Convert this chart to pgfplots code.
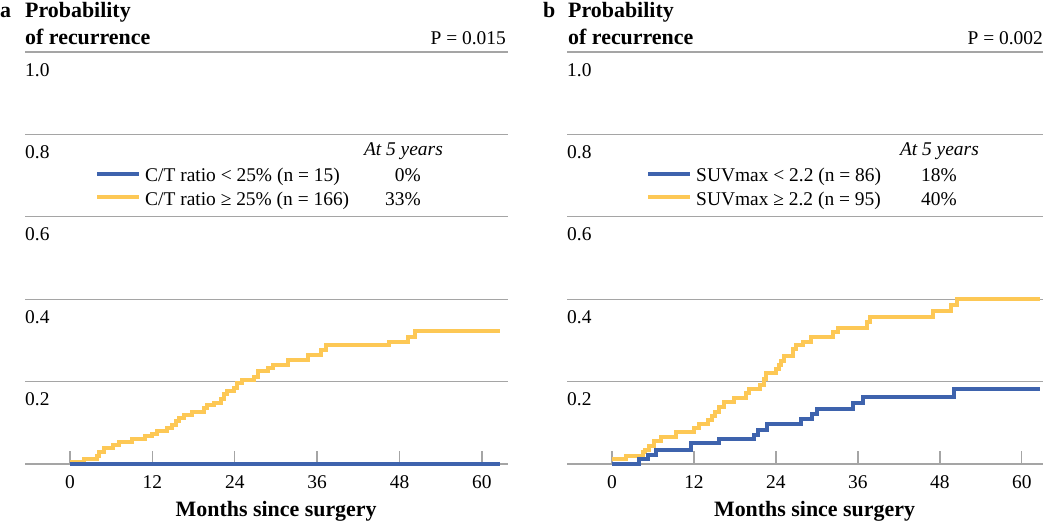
\documentclass[border=0pt]{standalone}
\usepackage{fontspec}
\setmainfont{Liberation Serif}
\usepackage{pgfplots}
\pgfplotsset{compat=1.18}
\definecolor{kmblue}{RGB}{62,99,173}
\definecolor{kmyellow}{RGB}{253,200,85}
\definecolor{gridgray}{RGB}{165,165,165}
\newcommand{\rfont}{\fontsize{19.5}{22}\selectfont}
\newcommand{\bfont}{\fontsize{22}{26}\selectfont\bfseries}
\pgfplotsset{
 kmaxis/.style={
  scale only axis, height=412bp, ymin=0, ymax=1,
  anchor=south west,
  axis line style={draw=none},
  ytick={0,0.2,0.4,0.6,0.8,1.0},
  yticklabels={,0.2,0.4,0.6,0.8,1.0},
  ymajorgrids, grid style={gridgray, line width=1.3bp},
  ytick style={draw=none},
  yticklabel style={anchor=north west, inner sep=0pt, yshift=-11bp},
  xtick={0,12,24,36,48,60},
  xtick pos=lower, tick align=inside, major tick length=13bp,
  xtick style={gridgray, line width=1.3bp},
  xticklabel style={anchor=north, inner sep=0pt, yshift=-11bp},
  tick label style={font=\rfont},
  /pgf/number format/assume math mode=true,
  xlabel={Months since surgery},
  xlabel style={font=\bfont, at={(axis description cs:0.52,0)}, anchor=base, yshift=-53bp},
  clip=false,
 },
 km/.style={const plot, line width=4bp, no marks},
}
\begin{document}
\begin{tikzpicture}[x=1bp,y=1bp]
\useasboundingbox (0,0) rectangle (1050,526);
% ---------------- panel a ----------------
\begin{axis}[kmaxis, at={(25bp,62bp)}, width=483bp, xmin=-6.55, xmax=63.8]
\addplot[km, kmyellow] table {
0 0.006
2.0 0.013
3.9 0.02
4.3 0.03
5.0 0.038
6.3 0.047
7.1 0.054
9.0 0.06
11.0 0.067
12.0 0.073
12.7 0.079
14.1 0.087
14.9 0.095
15.4 0.104
15.9 0.112
16.6 0.12
17.8 0.127
19.5 0.135
20.0 0.142
21.0 0.149
22.0 0.158
22.4 0.169
22.9 0.177
23.9 0.185
24.4 0.196
25.1 0.203
26.8 0.212
27.4 0.226
28.9 0.234
29.6 0.241
31.7 0.253
34.6 0.265
36.5 0.276
37.3 0.289
46.5 0.297
49.2 0.309
50.3 0.324
62.6 0.324
};
\addplot[km, kmblue] table {
0 0
62.6 0
};
\end{axis}
\node[anchor=base west, font=\bfont, inner sep=0pt] at (0,508.5) {a};
\node[anchor=base west, font=\bfont, inner sep=0pt] at (25,508.5) {Probability};
\node[anchor=base west, font=\bfont, inner sep=0pt] at (25,481) {of recurrence};
\node[anchor=base east, font=\rfont, inner sep=0pt] at (506,481) {P = 0.015};
\node[anchor=base east, font=\rfont\itshape, inner sep=0pt] at (443,370.5) {At 5 years};
\draw[kmblue, line width=4bp] (97,352) -- (139,352);
\draw[kmyellow, line width=4bp] (97,329) -- (139,329);
\node[anchor=base west, font=\rfont, inner sep=0pt] at (145,344) {C/T ratio < 25\% (n = 15)};
\node[anchor=base west, font=\rfont, inner sep=0pt] at (145,320.5) {C/T ratio ≥ 25\% (n = 166)};
\node[anchor=base east, font=\rfont, inner sep=0pt] at (421,344) {0\%};
\node[anchor=base east, font=\rfont, inner sep=0pt] at (421,320.5) {33\%};
% ---------------- panel b ----------------
\begin{axis}[kmaxis, at={(567bp,62bp)}, width=476bp, xmin=-6.59, xmax=63.1]
\addplot[km, kmyellow] table {
0 0.011
2.1 0.02
4.5 0.028
4.8 0.035
5.4 0.044
6.2 0.055
7.2 0.066
9.4 0.078
12.0 0.087
12.8 0.097
14.0 0.107
14.7 0.117
15.1 0.127
15.7 0.139
16.4 0.151
17.9 0.159
19.6 0.172
20.0 0.181
21.7 0.192
22.2 0.206
22.5 0.22
24.0 0.23
24.4 0.24
24.8 0.251
25.2 0.263
26.5 0.278
27.0 0.289
28.0 0.297
29.2 0.309
32.4 0.32
33.1 0.331
37.3 0.344
37.8 0.356
47.0 0.372
49.7 0.386
50.5 0.401
62.7 0.401
};
\addplot[km, kmblue] table {
0 0
4.0 0.012
5.2 0.023
6.5 0.035
11.6 0.05
15.7 0.06
20.8 0.07
21.4 0.083
22.7 0.097
27.6 0.108
29.3 0.121
30.0 0.134
35.3 0.147
36.8 0.162
50.0 0.182
62.7 0.182
};
\end{axis}
\node[anchor=base west, font=\bfont, inner sep=0pt] at (543,508.5) {b};
\node[anchor=base west, font=\bfont, inner sep=0pt] at (568,508.5) {Probability};
\node[anchor=base west, font=\bfont, inner sep=0pt] at (568,481) {of recurrence};
\node[anchor=base east, font=\rfont, inner sep=0pt] at (1043,481) {P = 0.002};
\node[anchor=base east, font=\rfont\itshape, inner sep=0pt] at (979,370.5) {At 5 years};
\draw[kmblue, line width=4bp] (648,352) -- (690,352);
\draw[kmyellow, line width=4bp] (648,329) -- (690,329);
\node[anchor=base west, font=\rfont, inner sep=0pt] at (696,344) {SUVmax < 2.2 (n = 86)};
\node[anchor=base west, font=\rfont, inner sep=0pt] at (696,320.5) {SUVmax ≥ 2.2 (n = 95)};
\node[anchor=base east, font=\rfont, inner sep=0pt] at (957,344) {18\%};
\node[anchor=base east, font=\rfont, inner sep=0pt] at (957,320.5) {40\%};
\end{tikzpicture}
\end{document}
